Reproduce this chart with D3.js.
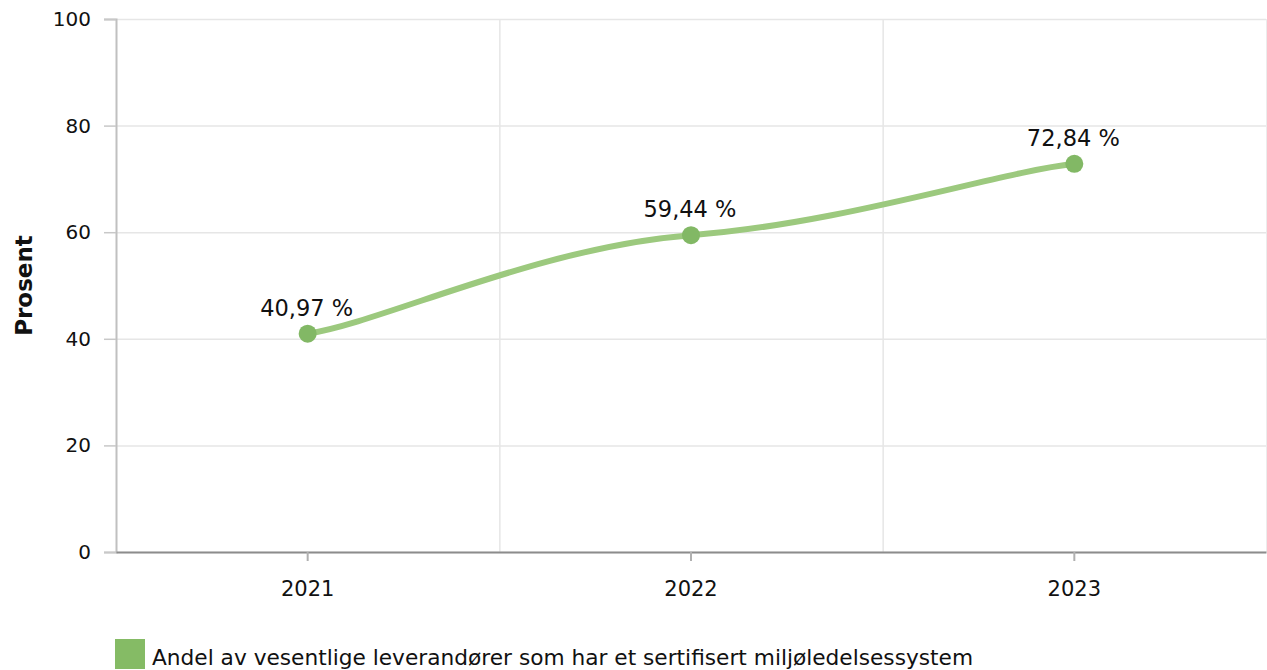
<!DOCTYPE html>
<html><head><meta charset="utf-8">
<script src="https://cdn.jsdelivr.net/npm/d3@7"></script>
<style>body{margin:0;background:#fff}svg{display:block;font-family:"DejaVu Sans",Verdana,sans-serif}</style>
</head><body><svg id="c" width="1267" height="670"></svg>
<script>
const categories = ["2021", "2022", "2023"];
const values = [40.97, 59.44, 72.84];
const valueLabels = ["40,97 %", "59,44 %", "72,84 %"];
const yTicks = [0, 20, 40, 60, 80, 100];
const seriesName = "Andel av vesentlige leverandører som har et sertifisert miljøledelsessystem";
const yTitle = "Prosent";

const FONT = "DejaVu Sans, Verdana, sans-serif";
const svg = d3.select("#c");
const L = 116, R = 1266, T = 19, B = 552;
const x = d3.scaleBand().domain(categories).range([L, R]);
const y = d3.scaleLinear().domain([0, 100]).range([B, T]);

// horizontal grid
svg.append("g").selectAll("line").data(yTicks).join("line")
  .attr("x1", L).attr("x2", R).attr("y1", d => y(d) + 0.5).attr("y2", d => y(d) + 0.5)
  .attr("stroke", "#e6e6e6").attr("stroke-width", 1.5);
// vertical grid between categories
const bounds = categories.slice(1).map(c => x(c));
svg.append("g").selectAll("line").data(bounds).join("line")
  .attr("x1", d => d + 0.5).attr("x2", d => d + 0.5).attr("y1", T).attr("y2", B)
  .attr("stroke", "#e6e6e6").attr("stroke-width", 1.5);
svg.append("line").attr("x1", R + 0.5).attr("x2", R + 0.5).attr("y1", T).attr("y2", B)
  .attr("stroke", "#ececec").attr("stroke-width", 1);

// y axis
const ya = svg.append("g").attr("transform", `translate(${L},0)`)
  .call(d3.axisLeft(y).tickValues(yTicks).tickSize(12).tickPadding(13));
ya.select(".domain").attr("stroke", "#c0c0c0").attr("stroke-width", 2);
ya.selectAll(".tick line").attr("stroke", "#c8c8c8").attr("stroke-width", 1.5);
ya.selectAll("text").attr("font-size", 20).attr("fill", "#111").attr("font-family", FONT);

// x axis
const xa = svg.append("g").attr("transform", `translate(0,${B})`)
  .call(d3.axisBottom(x).tickSize(9).tickPadding(20).tickSizeOuter(0));
xa.select(".domain").attr("stroke", "#8c8c8c").attr("stroke-width", 2);
xa.selectAll(".tick line").attr("stroke", "#b0b0b0").attr("stroke-width", 2);
xa.selectAll("text").attr("font-size", 21).attr("fill", "#111").attr("font-family", FONT);

// y title
svg.append("text").attr("transform", `translate(32,${(T + B) / 2}) rotate(-90)`)
  .attr("text-anchor", "middle").attr("font-weight", "bold").attr("font-size", 23)
  .attr("fill", "#111").text(yTitle);

// smoothed spline
const pts = categories.map((c, i) => [x(c) + x.bandwidth() / 2, y(values[i])]);
const innerOffset = 0.4, innerFactor = 0.35, endOffset = 0.2, endFactor = 0.6;
const n = pts.length;
const ctrl = pts.map((p, i) => {
  const prev = pts[i - 1], next = pts[i + 1];
  let slope, lx, rx;
  if (prev && next) {
    slope = innerFactor * (next[1] - prev[1]) / (next[0] - prev[0]);
    lx = p[0] - innerOffset * (p[0] - prev[0]);
    rx = p[0] + innerOffset * (next[0] - p[0]);
  } else if (next) {
    slope = endFactor * (next[1] - p[1]) / (next[0] - p[0]);
    lx = p[0]; rx = p[0] + endOffset * (next[0] - p[0]);
  } else {
    slope = endFactor * (p[1] - prev[1]) / (p[0] - prev[0]);
    rx = p[0]; lx = p[0] - endOffset * (p[0] - prev[0]);
  }
  return { lx, ly: p[1] + slope * (lx - p[0]), rx, ry: p[1] + slope * (rx - p[0]) };
});
const path = d3.path();
path.moveTo(pts[0][0], pts[0][1]);
for (let i = 1; i < n; i++) {
  const a = ctrl[i - 1], b = ctrl[i];
  path.bezierCurveTo(a.rx, a.ry, b.lx, b.ly, pts[i][0], pts[i][1]);
}
svg.append("path").attr("d", path.toString()).attr("fill", "none")
  .attr("stroke", "#9cc97e").attr("stroke-width", 6).attr("stroke-linecap", "round");

svg.append("g").selectAll("circle").data(pts).join("circle")
  .attr("cx", d => d[0]).attr("cy", d => d[1]).attr("r", 9).attr("fill", "#82b865");

svg.append("g").selectAll("text").data(pts).join("text")
  .attr("x", d => d[0] - 1).attr("y", d => d[1] - 18).attr("text-anchor", "middle")
  .attr("font-size", 22.5).attr("fill", "#111").text((d, i) => valueLabels[i]);

// legend
svg.append("rect").attr("x", 115).attr("y", 639).attr("width", 30).attr("height", 30).attr("fill", "#85bb65");
svg.append("text").attr("x", 152).attr("y", 665).attr("font-size", 21.7).attr("fill", "#111").text(seriesName);
</script></body></html>
